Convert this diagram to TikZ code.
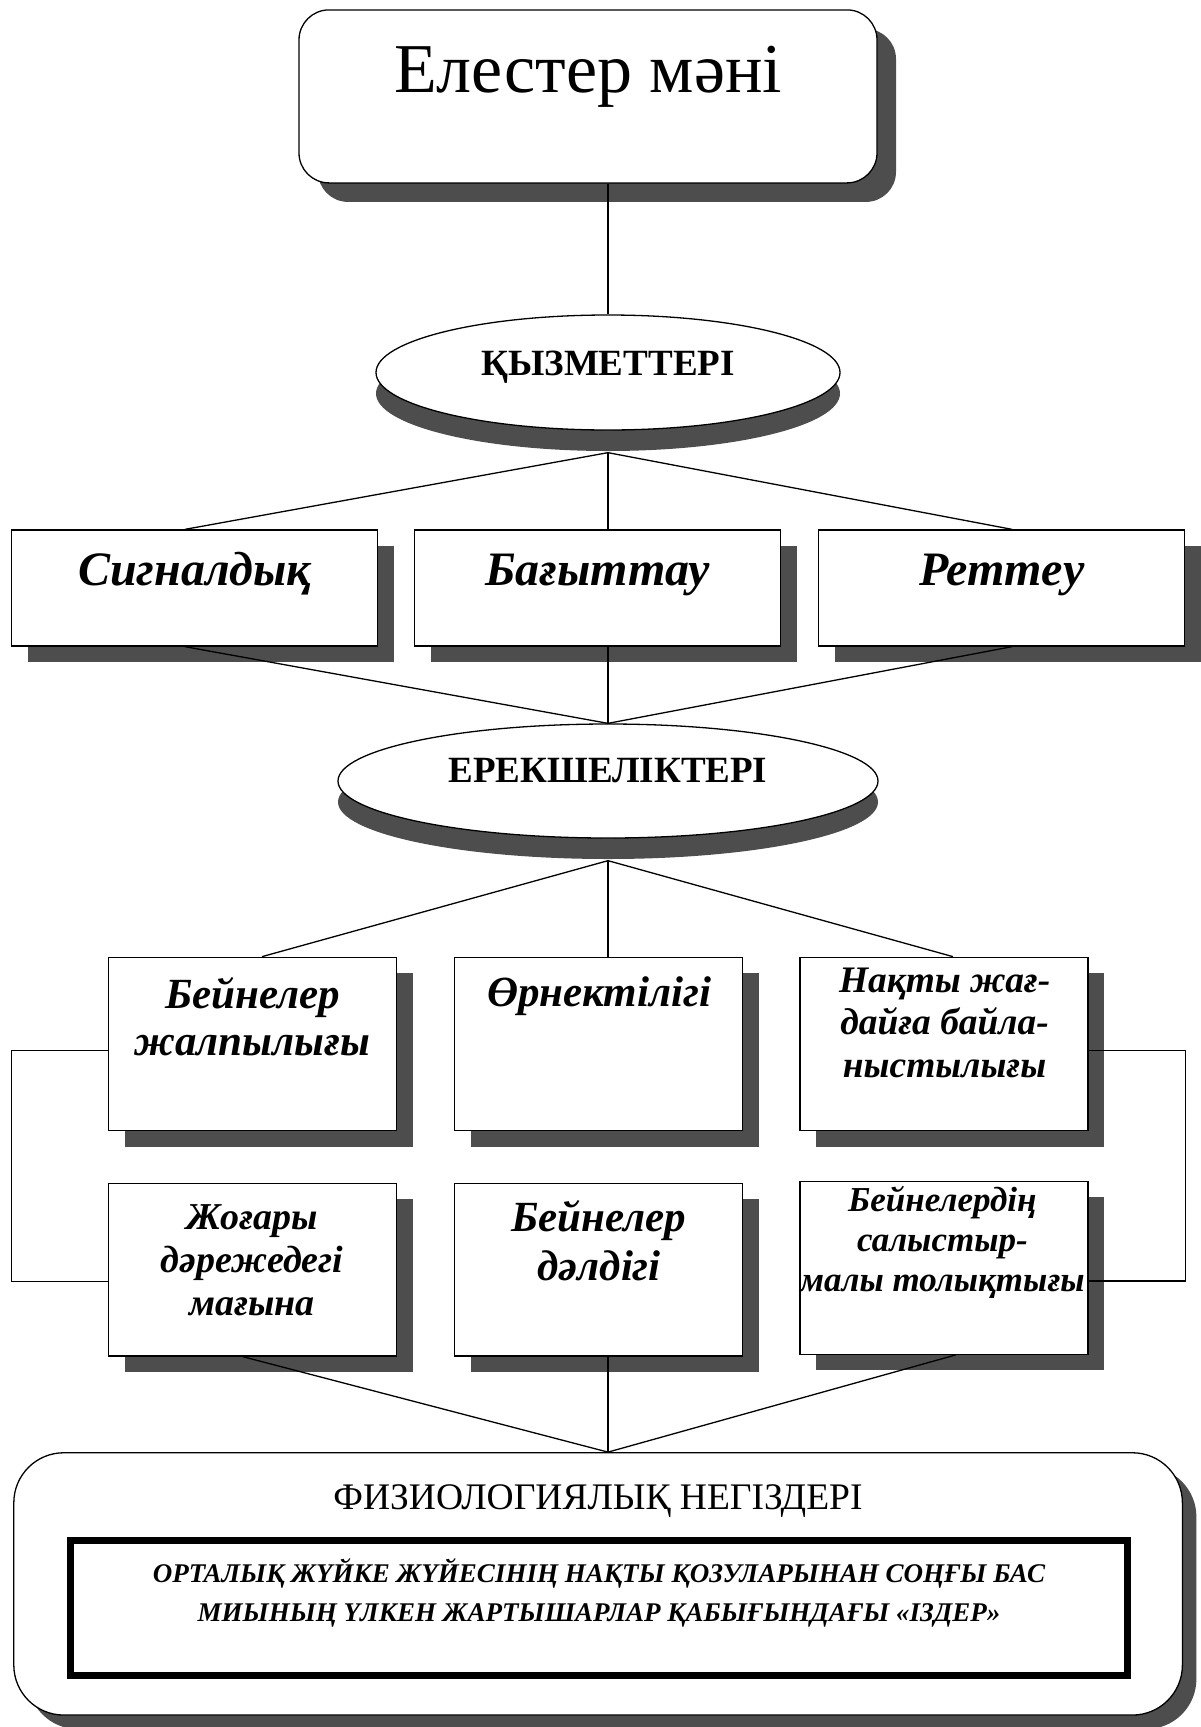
\documentclass[tikz,border=0pt]{standalone}
\usepackage{fontspec}
\setmainfont{Liberation Serif}
\usepackage{tikz}
\usetikzlibrary{calc,positioning,shapes.geometric,shadows}
\definecolor{shgray}{HTML}{4D4D4D}
\tikzset{
  ln/.style={line width=1.3pt,black},
  box/.style={draw=black,line width=1.3pt,fill=white,inner sep=0pt},
  sh/.style={drop shadow={shadow xshift=#1,shadow yshift=-#1,fill=shgray,opacity=1}},
  sh/.default=16pt,
  ovl/.style={ellipse,draw=black,line width=1.3pt,fill=white,inner sep=0pt,
    drop shadow={shadow xshift=0pt,shadow yshift=-21pt,fill=shgray,opacity=1}},
  tx/.style={inner sep=0pt,anchor=base,align=center}
}
\newcommand{\bif}[2]{\fontsize{#1}{#2}\selectfont\bfseries\itshape}

\begin{document}
\begin{tikzpicture}[x=1pt,y=-1pt]
\useasboundingbox (0,0) rectangle (1200,1727);
% title
\node[box,rounded corners=30pt,sh=19pt,minimum width=578pt,minimum height=173pt] (mani) at (588,96.4) {};
\node[tx,font=\fontsize{70}{80}\selectfont] (mani-t) at (588,92.7) {Елестер мәні};
% functions
\node[ovl,minimum width=464pt,minimum height=115pt] (qyz) at (608,372.5) {};
\node[tx,font=\fontsize{37}{40}\selectfont\bfseries] (qyz-t) at (608,375) {ҚЫЗМЕТТЕРІ};
\coordinate (qyz-b) at ([yshift=-22pt]qyz.south);
\draw[ln] (qyz.north |- mani.south) -- (qyz.north);
\node[box,sh,minimum width=366pt,minimum height=116pt] (sig) at (194.7,588) {};
\node[box,sh,minimum width=366pt,minimum height=116pt] (bag) at (597.7,588) {};
\node[box,sh,minimum width=366pt,minimum height=116pt] (ret) at (1001.8,588) {};
\node[tx,font=\bif{48}{56}] (sig-t) at (194.7,585) {Сигналдық};
\node[tx,font=\bif{48}{56}] (bag-t) at (597.7,585) {Бағыттау};
\node[tx,font=\bif{48}{56}] (ret-t) at (1001.8,585) {Реттеу};
% features
\node[ovl,minimum width=540pt,minimum height=114pt] (erek) at (608,781) {};
\node[tx,font=\fontsize{37}{40}\selectfont\bfseries] (erek-t) at (608,782.7) {ЕРЕКШЕЛІКТЕРІ};
\coordinate (erek-b) at ([yshift=-22pt]erek.south);
\foreach \n/\d in {sig/-9.7,bag/10.3,ret/10.2}{
  \draw[ln] (qyz-b) -- ([xshift=\d pt]\n.north);
  \draw[ln] ([xshift=\d pt]\n.south) -- (erek.north);
}
\node[box,sh,minimum width=288pt,minimum height=173.4pt] (bj) at (252.5,1044) {};
\node[box,sh,minimum width=288pt,minimum height=173.4pt] (orn) at (598.5,1044) {};
\node[box,sh,minimum width=288pt,minimum height=173.4pt] (nak) at (944,1044) {};
\node[box,sh,minimum width=288pt,minimum height=172.7pt] (jog) at (252.5,1269.7) {};
\node[box,sh,minimum width=288pt,minimum height=172.7pt] (bdal) at (598.5,1269.7) {};
\node[box,sh,minimum width=288pt,minimum height=173pt] (bsal) at (944,1267.8) {};
\node[tx,font=\bif{43}{47}] (bj-t) at (252.5,1055) {Бейнелер\\жалпылығы};
\node[tx,font=\bif{43}{47}] (orn-t) at (599,1006) {Өрнектілігі};
\node[tx,font=\bif{37.4}{42.4}] (nak-t) at (944.6,1077) {Нақты жағ-\\дайға байла-\\ныстылығы};
\node[tx,font=\bif{38}{43}] (jog-t) at (252,1315) {Жоғары\\дәрежедегі\\мағына};
\node[tx,font=\bif{43}{48.7}] (bdal-t) at (599,1280) {Бейнелер\\дәлдігі};
\node[tx,font=\bif{35}{40}] (bsal-t) at (942.4,1291) {Бейнелердің\\салыстыр-\\малы толықтығы};
\foreach \n/\d in {bj/9.5,orn/9.5,nak/9}
  \draw[ln] (erek-b) -- ([xshift=\d pt]\n.north);
\draw[ln] ([yshift=-6.5pt]bj.west) -- ++(-96.5,0) |- ([yshift=-11.5pt]jog.west);
\draw[ln] ([yshift=-6.5pt]nak.east) -- ++(96.5,0) |- ([yshift=-13.2pt]bsal.east);
% physiology
\node[box,rounded corners=50pt,sh=14pt,minimum width=1168.6pt,minimum height=262.3pt] (fiz) at (598.1,1583.9) {};
\coordinate (fiz-t) at ([xshift=9.9pt]fiz.north);
\foreach \n/\d in {jog/-9.5,bdal/9.5,bsal/11.6}
  \draw[ln] ([xshift=\d pt]\n.south) -- (fiz-t);
\node[tx,font=\fontsize{37.5}{42}\selectfont] (fiz-h) at (598,1509.3) {ФИЗИОЛОГИЯЛЫҚ НЕГІЗДЕРІ};
\node[draw=black,line width=7pt,inner sep=0pt,minimum width=1056.7pt,minimum height=135pt] (izd) at (599.2,1608.3) {};
\node[tx,font=\bif{27}{39}] (izd-t) at (599,1621) {ОРТАЛЫҚ ЖҮЙКЕ ЖҮЙЕСІНІҢ НАҚТЫ ҚОЗУЛАРЫНАН СОҢҒЫ БАС\\МИЫНЫҢ ҮЛКЕН ЖАРТЫШАРЛАР ҚАБЫҒЫНДАҒЫ «ІЗДЕР»};
\end{tikzpicture}
\end{document}
